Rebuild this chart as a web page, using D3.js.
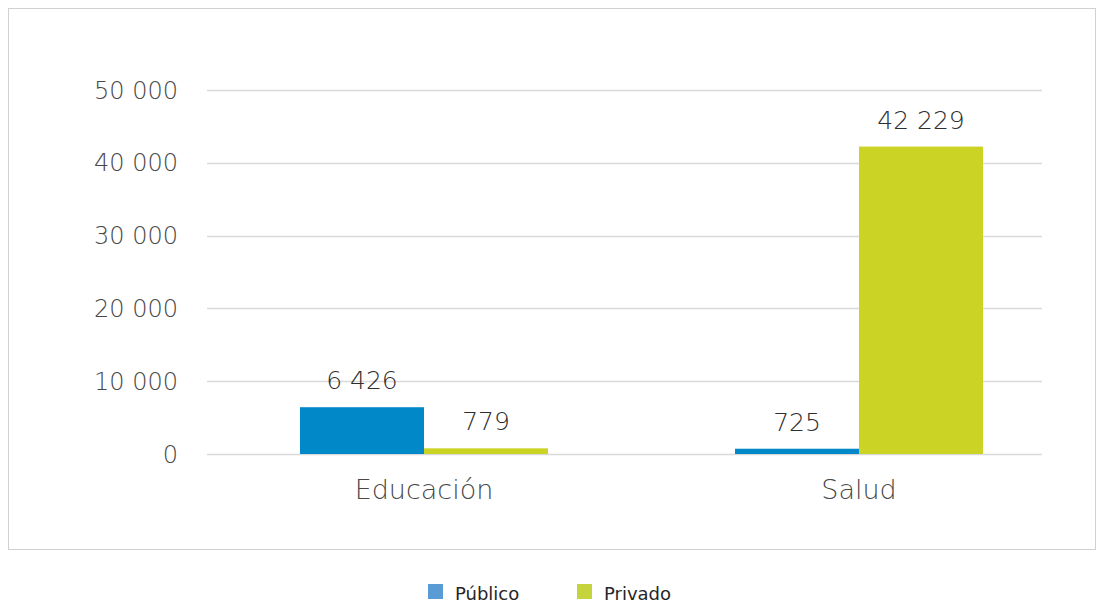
<!DOCTYPE html>
<html><head><meta charset="utf-8">
<script src="https://cdn.jsdelivr.net/npm/d3@7"></script>
<style>body{margin:0;background:#fff}svg{display:block}</style>
</head><body><svg id="c" width="1104" height="604"></svg>
<script>
const categories = ["Educación", "Salud"];
const seriesNames = ["Público", "Privado"];
const publico = [6426, 725];
const privado = [779, 42229];
const yTicks = [0, 10000, 20000, 30000, 40000, 50000];

const barColors = ["#0088C8", "#CBD325"];
const legendColors = ["#5B9BD5", "#C5D43C"];
const fmt = d3.formatLocale({decimal: ",", thousands: " ", grouping: [3], currency: ["", ""]}).format(",d");

const svg = d3.select("#c");
const font = "'DejaVu Sans', sans-serif";

svg.append("rect").attr("x", 8.5).attr("y", 8.5).attr("width", 1087).attr("height", 541)
  .attr("fill", "#fff").attr("stroke", "#d0d0d0").attr("stroke-width", 1);

const y = d3.scaleLinear().domain([0, 50000]).range([454, 90]);
const x0 = d3.scaleBand().domain(categories).range([206.5, 1076.5]).paddingInner(0).paddingOuter(0);
const x1 = d3.scaleBand().domain(seriesNames).range([0, 248]);
const gridX1 = 207, gridX2 = 1042;

// grid
svg.append("g").selectAll("line").data(yTicks).join("line")
  .attr("x1", gridX1).attr("x2", gridX2)
  .attr("y1", d => Math.round(y(d)) + 0.5).attr("y2", d => Math.round(y(d)) + 0.5)
  .attr("stroke", "#d9d9d9").attr("stroke-width", 1.5);

// y labels
svg.append("g").selectAll("text").data(yTicks).join("text")
  .attr("x", 178).attr("y", d => y(d)).attr("dy", "0.36em")
  .attr("text-anchor", "end").attr("font-family", font).attr("font-size", 24).attr("font-weight", 200)
  .attr("fill", "#484848").text(d => fmt(d));

const data = [];
categories.forEach((c, i) => {
  data.push({cat: c, s: seriesNames[0], v: publico[i], k: 0});
  data.push({cat: c, s: seriesNames[1], v: privado[i], k: 1});
});

const bx = d => x0(d.cat) + (x0.bandwidth() - 248) / 2 + x1(d.s);

svg.append("g").selectAll("rect").data(data).join("rect")
  .attr("x", bx).attr("width", x1.bandwidth())
  .attr("y", d => y(d.v)).attr("height", d => y(0) - y(d.v))
  .attr("fill", d => barColors[d.k]);

svg.append("g").selectAll("text").data(data).join("text")
  .attr("x", d => bx(d) + x1.bandwidth() / 2).attr("y", d => y(d.v) - 18)
  .attr("text-anchor", "middle").attr("font-family", font).attr("font-size", 25).attr("font-weight", 200)
  .attr("fill", "#2e2e2e").text(d => fmt(d.v));

// category labels
svg.append("g").selectAll("text").data(categories).join("text")
  .attr("x", d => x0(d) + x0.bandwidth() / 2).attr("y", 499)
  .attr("text-anchor", "middle").attr("font-family", font).attr("font-size", 27).attr("font-weight", 200)
  .attr("fill", "#484848").text(d => d);

// legend
const lx = [428, 577];
const lg = svg.append("g").selectAll("g").data(seriesNames).join("g")
  .attr("transform", (d, i) => `translate(${lx[i]},584)`);
lg.append("rect").attr("width", 15).attr("height", 15).attr("fill", (d, i) => legendColors[i]);
lg.append("text").attr("x", 27).attr("y", 16).attr("font-family", font).attr("font-size", 18)
  .attr("fill", "#262626").text(d => d);
</script></body></html>
